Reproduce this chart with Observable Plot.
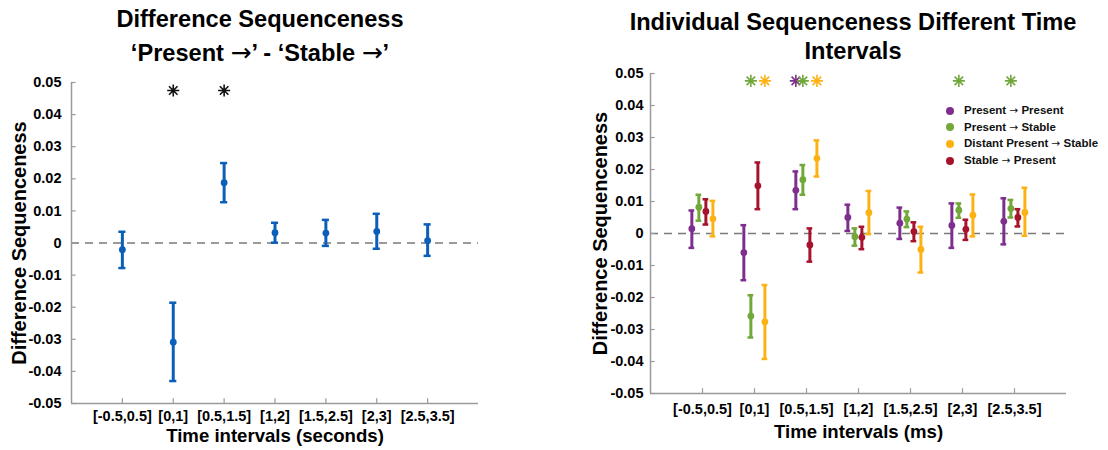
<!DOCTYPE html>
<html>
<head>
<meta charset="utf-8">
<script src="https://cdn.jsdelivr.net/npm/d3@7"></script>
<script src="https://cdn.jsdelivr.net/npm/@observablehq/plot@0.6"></script>
<style>
  html, body { margin: 0; padding: 0; background: #fff; }
  #wrap { position: relative; width: 1108px; height: 450px; overflow: hidden; font-family: "Liberation Sans", Arial, sans-serif; }
  .panel { position: absolute; top: 0; }
  .title { position: absolute; font-weight: bold; font-size: 23.6px; color: #000; text-align: center; white-space: nowrap; }
  .arr { font-family: "DejaVu Sans", sans-serif; font-weight: normal; }
  .title .arr { font-size: 25px; }
  .legend { position: absolute; font-weight: bold; font-size: 11.5px; color: #111; }
  .legend div { height: 16.7px; line-height: 16.7px; white-space: nowrap; }
  .legend .arr { font-size: 10.5px; }
  .legend span.sw { display: inline-block; width: 8px; height: 8px; border-radius: 50%; margin-right: 10px; vertical-align: -0.5px; }
</style>
</head>
<body>
<div id="wrap">
  <div id="left" class="panel" style="left:0px"></div>
  <div id="right" class="panel" style="left:554px"></div>
  <div class="title" style="left:60px; width:400px; top:3px; line-height:33px;">Difference Sequenceness<br>‘Present <span class="arr">→</span>’ - ‘Stable <span class="arr">→</span>’</div>
  <div class="title" style="left:603px; width:500px; top:8px; line-height:29px;">Individual Sequenceness Different Time<br>Intervals</div>
  <div id="legend" class="legend" style="left:946px; top:102px;"></div>
</div>
<script>
// ---------- data ----------
const intervals = ["[-0.5,0.5]", "[0,1]", "[0.5,1.5]", "[1,2]", "[1.5,2.5]", "[2,3]", "[2.5,3.5]"];
const yTicks = [-0.05, -0.04, -0.03, -0.02, -0.01, 0, 0.01, 0.02, 0.03, 0.04, 0.05];

// Left panel: Present→ minus Stable→
const diffMean  = [-0.0021, -0.0309, 0.0188, 0.0032, 0.0031, 0.0036, 0.0007];
const diffUpper = [ 0.0035, -0.0186, 0.0249, 0.0063, 0.0072, 0.0091, 0.0058];
const diffLower = [-0.0078, -0.0430, 0.0127, 0.0001, -0.0009, -0.0018, -0.0040];
const diffSig   = ["[0,1]", "[0.5,1.5]"];

// Right panel: individual series
const seriesNames  = ["Present → Present", "Present → Stable", "Stable → Present", "Distant Present → Stable"];
const legendOrder  = ["Present → Present", "Present → Stable", "Distant Present → Stable", "Stable → Present"];
const seriesColors = ["#7e2f8e", "#72a83a", "#a5132d", "#fdb214"];
const ppMean  = [0.0015, -0.0060, 0.0135, 0.0050, 0.0032, 0.0025, 0.0038];
const ppUpper = [0.0072, 0.0026, 0.0194, 0.0090, 0.0081, 0.0094, 0.0110];
const ppLower = [-0.0045, -0.0146, 0.0076, 0.0008, -0.0017, -0.0045, -0.0034];
const psMean  = [0.0082, -0.0258, 0.0168, -0.0010, 0.0045, 0.0073, 0.0078];
const psUpper = [0.0121, -0.0193, 0.0214, 0.0016, 0.0069, 0.0094, 0.0105];
const psLower = [0.0040, -0.0325, 0.0121, -0.0038, 0.0020, 0.0049, 0.0050];
const spMean  = [0.0069, 0.0149, -0.0036, -0.0012, 0.0006, 0.0013, 0.0050];
const spUpper = [0.0107, 0.0222, 0.0016, 0.0021, 0.0035, 0.0043, 0.0076];
const spLower = [0.0028, 0.0076, -0.0088, -0.0049, -0.0024, -0.0020, 0.0022];
const dpMean  = [0.0046, -0.0276, 0.0235, 0.0065, -0.0050, 0.0057, 0.0066];
const dpUpper = [0.0102, -0.0161, 0.0291, 0.0133, 0.0021, 0.0122, 0.0143];
const dpLower = [-0.0009, -0.0392, 0.0178, -0.0002, -0.0122, -0.0009, -0.0007];
const sigMarks = [
  {interval: "[0,1]", series: "Present → Stable"},
  {interval: "[0,1]", series: "Distant Present → Stable"},
  {interval: "[0.5,1.5]", series: "Present → Present"},
  {interval: "[0.5,1.5]", series: "Present → Stable"},
  {interval: "[0.5,1.5]", series: "Distant Present → Stable"},
  {interval: "[2,3]", series: "Present → Stable"},
  {interval: "[2.5,3.5]", series: "Present → Stable"}
];
const sigLevel = 0.0477;

// ---------- helpers ----------
const FONT = "Liberation Sans, Arial, sans-serif";
const AXIS_GREY = "#9a9a9a";
const Y_LABEL = "Difference Sequenceness";
const pos = name => intervals.indexOf(name) + 1;
const tickFmt = d => d === 0 ? "0" : d.toFixed(2);
// 8-armed asterisk symbol (MATLAB '*')
const star8 = {
  draw(ctx, size) {
    const r = Math.sqrt(size) * 0.62, q = r * Math.SQRT1_2;
    ctx.moveTo(-r, 0); ctx.lineTo(r, 0);
    ctx.moveTo(0, -r); ctx.lineTo(0, r);
    ctx.moveTo(-q, -q); ctx.lineTo(q, q);
    ctx.moveTo(-q, q); ctx.lineTo(q, -q);
  }
};

function frameMarks(xLabelText, xLabelDy, yLabelDx, tickPad, xTickDy) {
  return [
    Plot.ruleY([0], {x1: 0, x2: 8, stroke: "#7a7a7a", strokeWidth: 1.4, strokeDasharray: "8,6"}),
    Plot.ruleX([0], {y1: -0.05, y2: 0.05, stroke: AXIS_GREY, strokeWidth: 1.5}),
    Plot.ruleY([-0.05], {x1: 0, x2: 8, stroke: AXIS_GREY, strokeWidth: 1.5}),
    // inward ticks
    Plot.ruleY(yTicks, {x1: 0, x2: 0.09, stroke: AXIS_GREY, strokeWidth: 1.2}),
    Plot.ruleX(intervals.map(pos), {y1: -0.05, y2: -0.0485, stroke: AXIS_GREY, strokeWidth: 1.2}),
    Plot.axisY({ticks: yTicks, tickFormat: tickFmt, tickSize: 0, tickPadding: tickPad,
      label: Y_LABEL, labelAnchor: "center", labelArrow: "none", labelOffset: yLabelDx}),
    Plot.axisX({ticks: intervals.map(pos), tickFormat: d => intervals[d - 1], tickSize: 0, tickPadding: xTickDy,
      label: xLabelText, labelAnchor: "center", labelArrow: "none", labelOffset: xLabelDy})
  ];
}

function styleTexts(svg, xLabelText) {
  svg.querySelectorAll("text").forEach(t => {
    const s = t.textContent;
    let size = 14.5;
    if (s === Y_LABEL) size = 20;
    else if (s === xLabelText) size = 18.6;
    t.style.fontSize = size + "px";
    t.style.fontWeight = "bold";
    t.style.fill = "#000";
  });
}

// ---------- left panel ----------
const leftData = intervals.map((iv, i) => ({interval: iv, x: i + 1, mean: diffMean[i], lo: diffLower[i], hi: diffUpper[i]}));
const BLUE = "#0b5fb8";
const LEFT_X = "Time intervals (seconds)";
const left = Plot.plot({
  width: 554, height: 450,
  marginLeft: 71, marginRight: 76, marginTop: 82, marginBottom: 47,
  style: {fontFamily: FONT, background: "#fff", color: "#000"},
  x: {type: "linear", domain: [0, 8], axis: null},
  y: {domain: [-0.05, 0.05], axis: null},
  marks: [
    ...frameMarks(LEFT_X, 38, 60, 10, 7),
    Plot.ruleX(leftData, {x: "x", y1: "lo", y2: "hi", stroke: BLUE, strokeWidth: 3}),
    Plot.ruleY(leftData, {y: "hi", x1: d => d.x - 0.07, x2: d => d.x + 0.07, stroke: BLUE, strokeWidth: 2.5}),
    Plot.ruleY(leftData, {y: "lo", x1: d => d.x - 0.07, x2: d => d.x + 0.07, stroke: BLUE, strokeWidth: 2.5}),
    Plot.dot(leftData, {x: "x", y: "mean", r: 3.4, fill: BLUE, stroke: "none"}),
    Plot.dot(diffSig, {x: d => pos(d), y: () => 0.0475, symbol: star8, r: 5.5, stroke: "#111", strokeWidth: 1.6, fill: "none"})
  ]
});
styleTexts(left, LEFT_X);
document.getElementById("left").appendChild(left);

// ---------- right panel ----------
const OFFSETS = [-0.205, -0.07, 0.065, 0.2];
const seriesArr = [[ppMean, ppLower, ppUpper], [psMean, psLower, psUpper], [spMean, spLower, spUpper], [dpMean, dpLower, dpUpper]];
const rightData = [];
seriesNames.forEach((s, k) => {
  intervals.forEach((iv, i) => {
    rightData.push({series: s, x: i + 1 + OFFSETS[k], mean: seriesArr[k][0][i], lo: seriesArr[k][1][i], hi: seriesArr[k][2][i]});
  });
});
const sigData = sigMarks.map(d => ({series: d.series, x: pos(d.interval) + OFFSETS[seriesNames.indexOf(d.series)], y: sigLevel}));
const colorOpt = {domain: seriesNames, range: seriesColors};
const RIGHT_X = "Time intervals (ms)";
const right = Plot.plot({
  width: 554, height: 450,
  marginLeft: 96, marginRight: 42, marginTop: 73, marginBottom: 57,
  style: {fontFamily: FONT, background: "transparent", color: "#000"},
  x: {type: "linear", domain: [0, 8], axis: null},
  y: {domain: [-0.05, 0.05], axis: null},
  color: colorOpt,
  marks: [
    ...frameMarks(RIGHT_X, 44, 58, 7, 10),
    Plot.ruleX(rightData, {x: "x", y1: "lo", y2: "hi", stroke: "series", strokeWidth: 3}),
    Plot.ruleY(rightData, {y: "hi", x1: d => d.x - 0.055, x2: d => d.x + 0.055, stroke: "series", strokeWidth: 2.5}),
    Plot.ruleY(rightData, {y: "lo", x1: d => d.x - 0.055, x2: d => d.x + 0.055, stroke: "series", strokeWidth: 2.5}),
    Plot.dot(rightData, {x: "x", y: "mean", r: 3.4, fill: "series", stroke: "none"}),
    Plot.dot(sigData, {x: "x", y: "y", symbol: star8, r: 5.5, stroke: "series", strokeWidth: 1.6, fill: "none"})
  ]
});
styleTexts(right, RIGHT_X);
document.getElementById("right").appendChild(right);

// ---------- legend ----------
const leg = document.getElementById("legend");
legendOrder.forEach(name => {
  const row = document.createElement("div");
  const sw = document.createElement("span");
  sw.className = "sw";
  sw.style.background = seriesColors[seriesNames.indexOf(name)];
  row.appendChild(sw);
  const parts = name.split("→");
  row.appendChild(document.createTextNode(parts[0]));
  const a = document.createElement("span");
  a.className = "arr";
  a.textContent = "→";
  row.appendChild(a);
  row.appendChild(document.createTextNode(parts[1]));
  leg.appendChild(row);
});
</script>
</body>
</html>
